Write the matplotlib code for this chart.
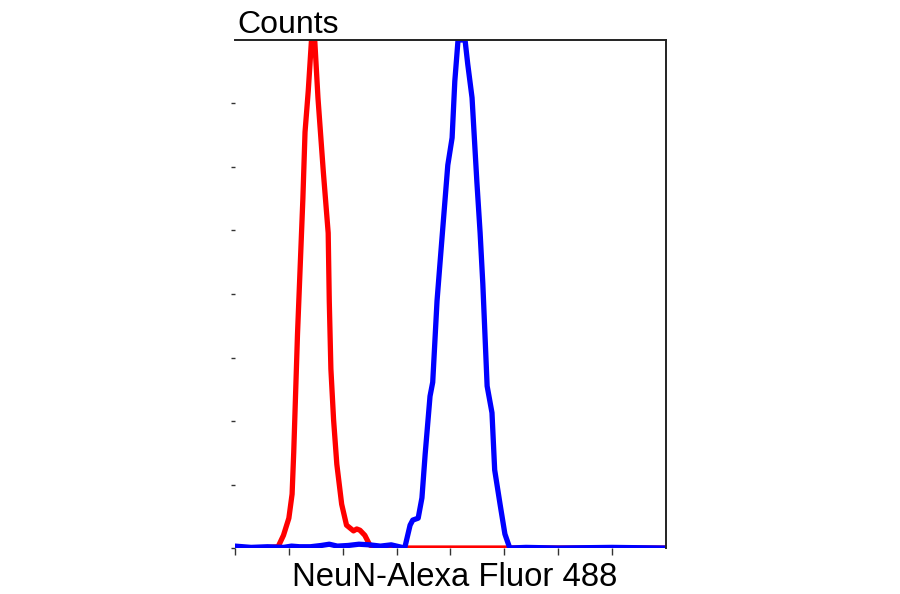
import matplotlib.pyplot as plt

plt.rcParams['font.family'] = ['Liberation Sans', 'DejaVu Sans']

# isotype / negative control (red)
red_x = [0, 0.50, 0.80, 0.90, 1.00, 1.06, 1.09, 1.12, 1.16, 1.21, 1.26, 1.30, 1.36,
         1.42, 1.48, 1.54, 1.64, 1.73, 1.75, 1.78, 1.83, 1.89, 1.98, 2.07, 2.20,
         2.26, 2.32, 2.41, 2.50, 2.56, 2.70, 8.0]
red_y = [0, 0, 0.02, 0.20, 0.47, 0.85, 1.50, 2.30, 3.36, 4.43, 5.50, 6.55, 7.20,
         8.0, 8.0, 7.09, 5.92, 4.96, 3.89, 2.82, 2.02, 1.32, 0.69, 0.36, 0.27,
         0.30, 0.28, 0.20, 0.05, 0.02, 0.0, 0.0]

# NeuN-Alexa Fluor 488 stained sample (blue)
blue_x = [0, 0.30, 0.60, 0.90, 1.05, 1.20, 1.40, 1.60, 1.75, 1.90, 2.10, 2.30, 2.50,
          2.70, 2.90, 3.05, 3.15, 3.25, 3.30, 3.40, 3.47, 3.53, 3.62, 3.67, 3.75,
          3.80, 3.86, 3.95, 4.03, 4.08, 4.14, 4.27, 4.32, 4.40, 4.49, 4.55, 4.60,
          4.68, 4.77, 4.82, 4.92, 5.01, 5.10, 5.40, 6.00, 7.00, 7.95]
blue_y = [0.03, 0.01, 0.02, 0.01, 0.03, 0.02, 0.02, 0.04, 0.06, 0.03, 0.04, 0.06, 0.05,
          0.03, 0.05, 0.02, 0.0, 0.36, 0.44, 0.47, 0.79, 1.48, 2.39, 2.61, 3.89,
          4.43, 5.07, 6.03, 6.46, 7.35, 8.0, 8.0, 7.62, 7.09, 5.76, 4.96, 4.16,
          2.55, 2.13, 1.23, 0.69, 0.22, 0.0, 0.01, 0.0, 0.01, 0.0]

x_ticks = [0, 1, 2, 3, 4, 5, 6, 7]
y_ticks = [0, 1, 2, 3, 4, 5, 6, 7]

fig = plt.figure(figsize=(9, 5.94), dpi=100)
ax = fig.add_axes([0.2611, 0.0774, 0.4789, 0.8553])

ax.plot(red_x, red_y, color='#ff0000', lw=3.8, solid_joinstyle='round')
ax.plot(blue_x, blue_y, color='#0000ff', lw=3.8, solid_joinstyle='round')

ax.set_xlim(0, 8)
ax.set_ylim(0, 8)
ax.set_xticks(x_ticks)
ax.set_yticks(y_ticks)
ax.set_xticklabels([])
ax.set_yticklabels([])
ax.tick_params(axis='x', direction='out', length=5, width=1, color='#333333')
ax.tick_params(axis='y', direction='out', length=3, width=1, color='#333333', pad=2)

ax.spines['left'].set_visible(False)
ax.spines['bottom'].set_visible(False)
for s in ['top', 'right']:
    ax.spines[s].set_linewidth(1.4)
    ax.spines[s].set_color('#222222')

ax.set_xlabel('NeuN-Alexa Fluor 488', fontsize=23.7, labelpad=4)
ax.xaxis.set_label_coords(0.51, -0.028, transform=ax.transAxes)
ax.xaxis.label.set_va('top')
fig.text(237 / 900, 1 - 33 / 594, 'Counts', fontsize=23, ha='left', va='baseline')

fig.savefig('out.png', dpi=100)
